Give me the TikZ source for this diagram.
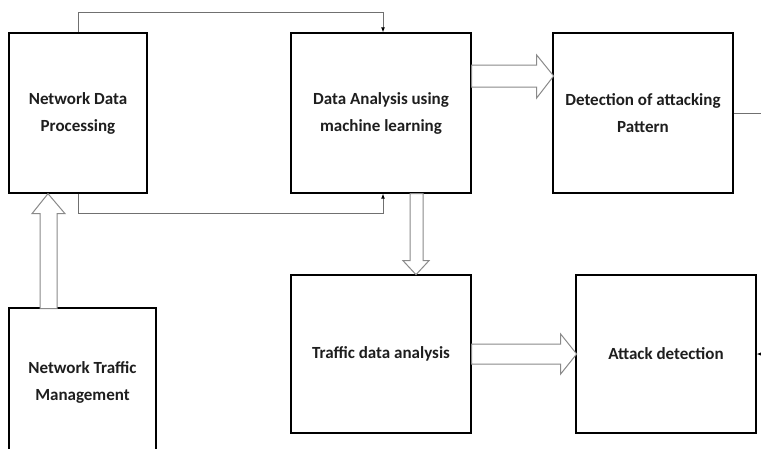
\documentclass[tikz,border=0pt]{standalone}
\usepackage{fontspec}
\setmainfont{Carlito}
\usetikzlibrary{arrows.meta}
\definecolor{txt}{HTML}{1E1E1E}
\definecolor{conn}{HTML}{707070}
\definecolor{blk}{HTML}{8A8A8A}
\begin{document}
\begin{tikzpicture}[x=1pt,y=-1pt,
  box/.style={draw=black,line width=1.3pt,inner sep=0pt,align=center,text=txt,
    font=\bfseries\fontsize{17}{27}\selectfont},
  conn/.style={draw=conn,line width=0.9pt,-{Latex[length=5pt,width=4pt,color=black]}},
  plain/.style={draw=conn,line width=0.9pt},
  blockarrow/.style={draw=blk,line width=1pt,fill=white,line join=miter}]
\useasboundingbox (0,0) rectangle (761,448);
\clip (0,0) rectangle (761,448);
\fill[white] (0,0) rectangle (761,448);
% boxes
\node[box,minimum width=138pt,minimum height=160pt] (ndp) at (78,113) {Network Data\\Processing};
\node[box,minimum width=180pt,minimum height=160pt] (da) at (381,113) {Data Analysis using\\machine learning};
\node[box,minimum width=180pt,minimum height=160pt] (det) at (643,113) {Detection of attacking\\Pattern};
\node[box,minimum width=180pt,minimum height=158pt] (trf) at (381,354) {Traffic data analysis};
\node[box,minimum width=180pt,minimum height=158pt] (att) at (666,354) {Attack detection};
\node[box,minimum width=147pt,minimum height=148pt] (ntm) at (82.5,382) {Network Traffic\\Management};
% thin connectors
\draw[conn] (ndp.north) -- ++(0,-20) -| ([xshift=2pt]da.north);
\draw[conn] (ndp.south) -- ++(0,20) -| ([xshift=2pt]da.south);
\coordinate (outR) at (775,113);
\coordinate (inR) at (775,354);
\draw[plain] (det.east) -- (outR);
\draw[conn] (inR) -- (att.east);
% block arrows
\draw[blockarrow] (da.east) ++(0,-48) -- ++(65,0) -- ++(0,-10) -- ++(17,21) -- ++(-17,22) -- ++(0,-11) -- ++(-65,0) -- cycle;
\draw[blockarrow] (da.south) ++(29,0) -- ++(0,67) -- ++(-7,0) -- ++(13,14) -- ++(13,-14) -- ++(-6,0) -- ++(0,-67) -- cycle;
\draw[blockarrow] (trf.east) ++(0,-10) -- ++(89,0) -- ++(0,-10) -- ++(16,20) -- ++(-16,20) -- ++(0,-10) -- ++(-89,0) -- cycle;
\draw[blockarrow] (ndp.south) ++(-30,0) -- ++(17,20) -- ++(-8,0) -- ++(0,95) -- ++(-17,0) -- ++(0,-95) -- ++(-8,0) -- cycle;
\end{tikzpicture}
\end{document}
